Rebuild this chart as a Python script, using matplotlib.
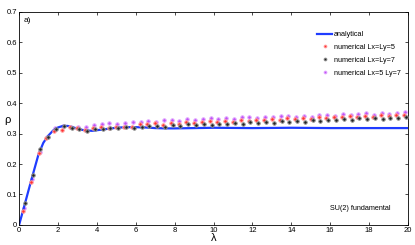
import matplotlib
matplotlib.use("Agg")
import matplotlib.pyplot as plt
import numpy as np

plt.rcParams['font.family'] = ['Liberation Sans', 'DejaVu Sans']

# analytical curve
lam_an = [0, 0.25, 0.5, 0.75, 1.0, 1.25, 1.5, 1.75, 2.0, 2.25, 2.5, 2.75, 3.0,
          3.25, 3.5, 3.75, 4.0, 4.5, 5.0, 5.5, 6.0, 6.5, 7.0, 7.5, 8.0, 9.0,
          10.0, 12.0, 14.0, 16.0, 18.0, 20.0]
rho_an = [0, 0.058, 0.117, 0.175, 0.232, 0.27, 0.293, 0.31, 0.32, 0.325, 0.325,
          0.321, 0.316, 0.312, 0.31, 0.309, 0.311, 0.315, 0.319, 0.321, 0.321,
          0.32, 0.318, 0.317, 0.317, 0.318, 0.319, 0.318, 0.319, 0.318, 0.318, 0.318]

# numerical Lx=Ly=5
lam_5 = [0.2, 0.6, 1.0, 1.4, 1.8, 2.2, 2.6, 3.0, 3.4, 3.8, 4.2, 4.6, 5.0, 5.4,
         5.8, 6.2, 6.6, 7.0, 7.4, 7.8, 8.2, 8.6, 9.0, 9.4, 9.8, 10.2, 10.6,
         11.0, 11.4, 11.8, 12.2, 12.6, 13.0, 13.4, 13.8, 14.2, 14.6, 15.0,
         15.4, 15.8, 16.2, 16.6, 17.0, 17.4, 17.8, 18.2, 18.6, 19.0, 19.4, 19.8]
rho_5 = [0.045, 0.14, 0.235, 0.285, 0.31, 0.312, 0.322, 0.318, 0.312, 0.318,
         0.322, 0.318, 0.322, 0.323, 0.32, 0.331, 0.33, 0.334, 0.328, 0.336,
         0.333, 0.339, 0.335, 0.339, 0.341, 0.338, 0.342, 0.339, 0.344, 0.342,
         0.346, 0.343, 0.348, 0.345, 0.35, 0.347, 0.352, 0.349, 0.354, 0.351,
         0.355, 0.353, 0.357, 0.354, 0.359, 0.356, 0.361, 0.358, 0.362, 0.361]

# numerical Lx=Ly=7
lam_7 = [0.3, 0.7, 1.1, 1.5, 1.9, 2.3, 2.7, 3.1, 3.5, 3.9, 4.3, 4.7, 5.1, 5.5,
         5.9, 6.3, 6.7, 7.1, 7.5, 7.9, 8.3, 8.7, 9.1, 9.5, 9.9, 10.3, 10.7,
         11.1, 11.5, 11.9, 12.3, 12.7, 13.1, 13.5, 13.9, 14.3, 14.7, 15.1,
         15.5, 15.9, 16.3, 16.7, 17.1, 17.5, 17.9, 18.3, 18.7, 19.1, 19.5, 19.9]
rho_7 = [0.072, 0.163, 0.25, 0.29, 0.316, 0.324, 0.318, 0.316, 0.31, 0.314,
         0.316, 0.317, 0.318, 0.32, 0.318, 0.322, 0.324, 0.326, 0.323, 0.328,
         0.325, 0.33, 0.327, 0.332, 0.329, 0.333, 0.33, 0.335, 0.332, 0.337,
         0.334, 0.339, 0.336, 0.34, 0.338, 0.342, 0.339, 0.344, 0.341, 0.346,
         0.343, 0.348, 0.345, 0.35, 0.347, 0.351, 0.348, 0.352, 0.35, 0.355]

# numerical Lx=5 Ly=7
lam_57 = [0.25, 0.65, 1.05, 1.45, 1.85, 2.25, 2.65, 3.05, 3.45, 3.85, 4.25,
          4.65, 5.05, 5.45, 5.85, 6.25, 6.65, 7.05, 7.45, 7.85, 8.25, 8.65,
          9.05, 9.45, 9.85, 10.25, 10.65, 11.05, 11.45, 11.85, 12.25, 12.65,
          13.05, 13.45, 13.85, 14.25, 14.65, 15.05, 15.45, 15.85, 16.25, 16.65,
          17.05, 17.45, 17.85, 18.25, 18.65, 19.05, 19.45, 19.85]
rho_57 = [0.055, 0.15, 0.24, 0.29, 0.317, 0.325, 0.322, 0.322, 0.32, 0.328,
          0.33, 0.335, 0.333, 0.334, 0.337, 0.337, 0.342, 0.339, 0.344, 0.346,
          0.342, 0.347, 0.344, 0.349, 0.352, 0.347, 0.352, 0.349, 0.354, 0.356,
          0.351, 0.356, 0.353, 0.357, 0.359, 0.355, 0.359, 0.356, 0.361, 0.362,
          0.358, 0.363, 0.36, 0.365, 0.366, 0.361, 0.366, 0.363, 0.368, 0.37]

fig = plt.figure(figsize=(4.15, 2.45), dpi=100)
ax = fig.add_axes([0.046, 0.082, 0.937, 0.87])

ax.plot(lam_an, rho_an, '-', color='#1f3cff', lw=1.6, label='analytical', zorder=2)
ax.plot(lam_5, rho_5, 'o', ls='none', color='#ff3030', mec='#ffa0a0', mew=0.7,
        ms=2.5, label='numerical Lx=Ly=5', zorder=3)
ax.plot(lam_7, rho_7, 'o', ls='none', color='#222222', mec='#909090', mew=0.7,
        ms=2.5, label='numerical Lx=Ly=7', zorder=4)
ax.plot(lam_57, rho_57, 'o', ls='none', color='#c050f5', mec='#e2a8ff', mew=0.7,
        ms=2.5, label='numerical Lx=5 Ly=7', zorder=1)

ax.set_xlim(0, 20)
ax.set_ylim(0, 0.7)
ax.set_xticks(np.arange(0, 21, 2))
ax.set_yticks(np.arange(0, 0.71, 0.1))
ax.set_yticklabels(['0', '0.1', '0.2', '0.3', '0.4', '0.5', '0.6', '0.7'])
ax.tick_params(direction='in', top=True, right=True, labelsize=5.5,
               length=2.5, width=0.5, pad=1.5)
for s in ax.spines.values():
    s.set_linewidth(0.6)

ax.set_xlabel('λ', fontsize=8, labelpad=-1)
ax.set_ylabel('ρ', fontsize=8, rotation=0, labelpad=2)
ax.yaxis.set_label_coords(-0.03, 0.47)

ax.text(0.012, 0.975, 'a)', transform=ax.transAxes, fontsize=6, va='top')
ax.text(0.80, 0.07, 'SU(2) fundamental', transform=ax.transAxes, fontsize=5.2)

ax.legend(loc='upper right', bbox_to_anchor=(0.998, 0.94), frameon=False,
          fontsize=5.2, handlelength=2.1, handletextpad=0.2, labelspacing=0.8,
          markerscale=0.8)

fig.savefig('out.png', dpi=100)
